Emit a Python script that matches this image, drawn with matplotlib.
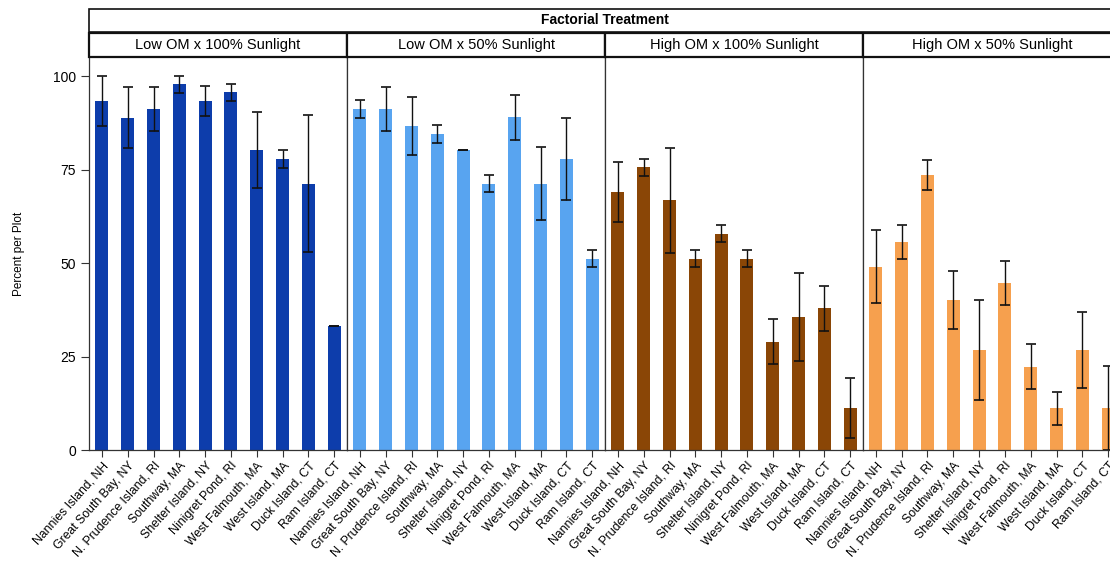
import matplotlib
matplotlib.use("Agg")
from matplotlib import pyplot as plt
from matplotlib.patches import Rectangle

# DATA
sites = ["Nannies Island, NH", "Great South Bay, NY", "N. Prudence Island, RI",
         "Southway, MA", "Shelter Island, NY", "Ninigret Pond, RI",
         "West Falmouth, MA", "West Island, MA", "Duck Island, CT", "Ram Island, CT"]
treatments = ["Low OM x 100% Sunlight", "Low OM x 50% Sunlight",
              "High OM x 100% Sunlight", "High OM x 50% Sunlight"]

low_full = [93.5, 89.0, 91.3, 97.9, 93.5, 95.7, 80.2, 77.9, 71.3, 33.3]
low_full_err = [6.7, 8.1, 6.0, 2.3, 4.0, 2.3, 10.2, 2.5, 18.3, 0.0]
low_half = [91.3, 91.3, 86.8, 84.6, 80.2, 71.3, 89.1, 71.3, 77.9, 51.2]
low_half_err = [2.3, 6.0, 7.8, 2.3, 0.0, 2.3, 6.0, 9.8, 11.0, 2.3]
high_full = [69.0, 75.7, 66.8, 51.2, 57.9, 51.2, 29.0, 35.7, 37.9, 11.2]
high_full_err = [8.1, 2.3, 14.0, 2.3, 2.3, 2.3, 6.0, 11.8, 6.0, 8.0]
high_half = [49.1, 55.7, 73.6, 40.2, 26.8, 44.6, 22.3, 11.2, 26.8, 11.2]
high_half_err = [9.7, 4.5, 3.9, 7.7, 13.4, 5.9, 6.0, 4.4, 10.2, 11.2]

values = [low_full, low_half, high_full, high_half]
errors = [low_full_err, low_half_err, high_full_err, high_half_err]
colors = ["#0D3DAB", "#58A4F0", "#8A4606", "#F6A04E"]

fig = plt.figure(figsize=(11.1, 5.79), dpi=100)
plt.rcParams['font.family'] = ['Liberation Sans', 'DejaVu Sans']

left = 89 / 1110
pw = 258 / 1110
bottom = 1 - 450 / 579
top = 1 - 57 / 579
edge = "#333333"

for i in range(4):
    ax = fig.add_axes([left + i * pw, bottom, pw, top - bottom])
    x = list(range(len(sites)))
    ax.bar(x, values[i], width=0.5, color=colors[i])
    ax.errorbar(x, values[i], yerr=errors[i], fmt="none", ecolor="#111111",
                elinewidth=1, capsize=3.5, capthick=1.2)
    ax.set_xlim(-0.5, 9.5)
    ax.set_ylim(0, 105.2)
    ax.set_xticks(x)
    ax.set_xticklabels(sites, rotation=48, ha="right", rotation_mode="anchor",
                       fontsize=8.8)
    ax.tick_params(axis="x", length=5, width=0.8, color=edge, pad=2)
    for s in ["left", "right", "bottom"]:
        ax.spines[s].set_color(edge)
        ax.spines[s].set_linewidth(0.9)
    ax.spines["top"].set_visible(False)
    if i == 0:
        ax.set_yticks([0, 25, 50, 75, 100])
        ax.tick_params(axis="y", length=6, width=0.8, color=edge, labelsize=10)
        ax.set_ylabel("Percent per Plot", fontsize=8.5, labelpad=20)
    else:
        ax.set_yticks([])

    # strip for each treatment
    sy0 = 1 - 57 / 579
    sy1 = 1 - 33 / 579
    fig.patches.append(Rectangle((left + i * pw, sy0), pw, sy1 - sy0,
                                 transform=fig.transFigure, facecolor="white",
                                 edgecolor="#111111", linewidth=1.6))
    fig.text(left + i * pw + pw / 2, (sy0 + sy1) / 2, treatments[i],
             ha="center", va="center", fontsize=10.5)

# top strip
ty0 = 1 - 32 / 579
ty1 = 1 - 9 / 579
fig.patches.append(Rectangle((left, ty0), 4 * pw, ty1 - ty0,
                             transform=fig.transFigure, facecolor="white",
                             edgecolor="#111111", linewidth=1.2))
fig.text(left + 2 * pw, (ty0 + ty1) / 2, "Factorial Treatment",
         ha="center", va="center", fontsize=10, fontweight="bold")

fig.savefig("out.png", dpi=100)
